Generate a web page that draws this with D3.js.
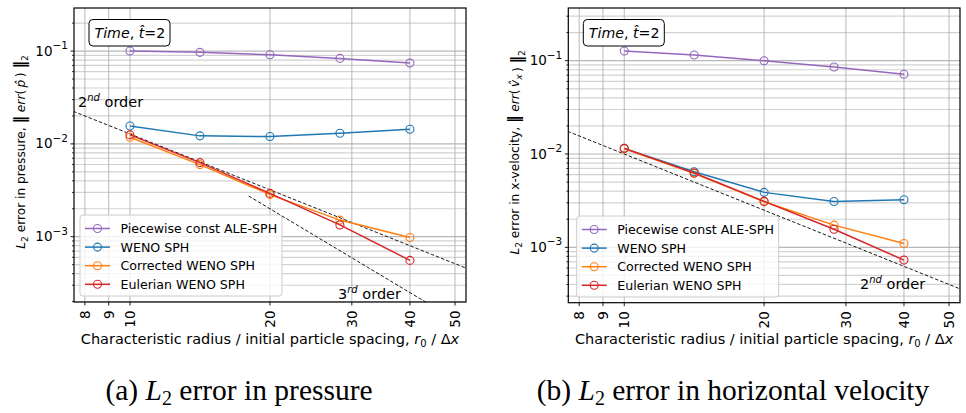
<!DOCTYPE html>
<html>
<head>
<meta charset="utf-8">
<script src="https://cdn.jsdelivr.net/npm/d3@7"></script>
<style>
  body { margin: 0; background: #fff; }
  svg { display: block; font-family: "DejaVu Sans", sans-serif; }
</style>
</head>
<body>
<svg id="chart" width="966" height="413"></svg>
<script>
// resolution r0/dx used by every series
const resolution = [10, 14.14, 20, 28.28, 40];

// panel (a): pressure error
const pressurePiecewise = [0.100, 0.0968, 0.0912, 0.0834, 0.0742];
const pressureWeno = [0.0156, 0.0122, 0.0120, 0.0130, 0.0144];
const pressureCorrected = [0.0118, 0.00598, 0.00284, 0.00151, 0.00098];
const pressureEulerian = [0.0125, 0.00628, 0.00293, 0.00134, 0.000556];

// panel (b): x-velocity error
const velocityPiecewise = [0.127, 0.115, 0.100, 0.0856, 0.0715];
const velocityWeno = [0.0115, 0.00646, 0.00388, 0.00310, 0.00324];
const velocityCorrected = [0.0114, 0.0062, 0.00308, 0.00173, 0.00110];
const velocityEulerian = [0.0115, 0.00625, 0.00311, 0.00156, 0.00073];

const seriesNames = ["Piecewise const ALE-SPH", "WENO SPH", "Corrected WENO SPH", "Eulerian WENO SPH"];
const seriesColors = ["#9467bd", "#1f77b4", "#ff7f0e", "#d62728"];

const xTicks = [8, 9, 10, 20, 30, 40, 50];
const xDomain = [7.579, 52.8];

const svg = d3.select("#chart");

function drawPanel({left, top, width, height, yDomain, series, refs, yLabel, legendAt}) {
  const g = svg.append("g");
  const x = d3.scaleLog().domain(xDomain).range([left, left + width]);
  const y = d3.scaleLog().domain(yDomain).range([top + height, top]);
  const uid = "clip-" + Math.round(left);

  g.append("clipPath").attr("id", uid)
    .append("rect").attr("x", left).attr("y", top).attr("width", width).attr("height", height);

  // horizontal grid (major + minor)
  const yAll = [];
  for (let e = -4; e <= 0; e++) for (let k = 1; k <= 9; k++) {
    const v = k * Math.pow(10, e);
    if (v >= yDomain[0] && v <= yDomain[1]) yAll.push(v);
  }
  const isMajor = d => Math.abs(Math.log10(d) - Math.round(Math.log10(d))) < 1e-9;
  g.append("g").selectAll("line").data(yAll).join("line")
    .attr("x1", left).attr("x2", left + width)
    .attr("y1", d => y(d)).attr("y2", d => y(d))
    .attr("stroke", d => isMajor(d) ? "#b8b8b8" : "#d2d2d2")
    .attr("stroke-width", 1.2);

  // vertical grid
  g.append("g").selectAll("line").data(xTicks).join("line")
    .attr("x1", d => x(d)).attr("x2", d => x(d))
    .attr("y1", top).attr("y2", top + height)
    .attr("stroke", "#b0b0b0").attr("stroke-width", 0.9);

  // reference slopes
  const plot = g.append("g").attr("clip-path", `url(#${uid})`);
  refs.forEach(r => {
    plot.append("line")
      .attr("x1", x(r.from)).attr("y1", y(r.c / Math.pow(r.from, r.order)))
      .attr("x2", x(r.to)).attr("y2", y(r.c / Math.pow(r.to, r.order)))
      .attr("stroke", "#000").attr("stroke-width", 0.9).attr("stroke-dasharray", "3.5,2");
  });

  const line = d3.line().x((d, i) => x(resolution[i])).y(d => y(d));
  series.forEach((s, i) => {
    plot.append("path").attr("d", line(s))
      .attr("fill", "none").attr("stroke", seriesColors[i]).attr("stroke-width", 1.5);
    plot.append("g").selectAll("circle").data(s).join("circle")
      .attr("cx", (d, j) => x(resolution[j])).attr("cy", d => y(d)).attr("r", 4)
      .attr("fill", "none").attr("stroke", seriesColors[i]).attr("stroke-width", 1.1);
  });

  // reference labels
  refs.forEach(r => {
    const t = g.append("text").attr("x", r.lx).attr("y", r.ly).attr("font-size", 14.5).attr("fill", "#000");
    t.append("tspan").text(r.order);
    t.append("tspan").attr("dy", -6).attr("font-size", 10).attr("font-style", "italic").text(r.order === 2 ? "nd" : "rd");
    t.append("tspan").attr("dy", 6).text(" order");
  });

  // frame
  g.append("rect").attr("x", left).attr("y", top).attr("width", width).attr("height", height)
    .attr("fill", "none").attr("stroke", "#000").attr("stroke-width", 1.2);

  // y ticks
  const yMinor = yAll.filter(d => !isMajor(d));
  const yMajor = yAll.filter(isMajor);
  g.append("g").selectAll("line").data(yMinor).join("line")
    .attr("x1", left - 2).attr("x2", left).attr("y1", d => y(d)).attr("y2", d => y(d))
    .attr("stroke", "#000").attr("stroke-width", 0.8);
  g.append("g").selectAll("line").data(yMajor).join("line")
    .attr("x1", left - 3.5).attr("x2", left).attr("y1", d => y(d)).attr("y2", d => y(d))
    .attr("stroke", "#000").attr("stroke-width", 0.9);
  yMajor.forEach(d => {
    const t = g.append("text").attr("x", left - 6).attr("y", y(d) + 4.5)
      .attr("text-anchor", "end").attr("font-size", 13.5);
    t.append("tspan").text("10");
    t.append("tspan").attr("dy", -6.5).attr("font-size", 10.5).text("\u2212" + Math.round(-Math.log10(d)));
  });

  // x ticks
  g.append("g").selectAll("line").data(xTicks).join("line")
    .attr("x1", d => x(d)).attr("x2", d => x(d)).attr("y1", top + height).attr("y2", top + height + 3.5)
    .attr("stroke", "#000").attr("stroke-width", 0.9);
  g.append("g").selectAll("text").data(xTicks).join("text")
    .attr("transform", d => `translate(${x(d) + 5},${top + height + 8.5}) rotate(-90)`)
    .attr("text-anchor", "end").attr("font-size", 13.5).text(d => d);

  // x label
  const xl = g.append("text").attr("x", left + width / 2).attr("y", 344)
    .attr("text-anchor", "middle").attr("font-size", 14.5);
  xl.append("tspan").text("Characteristic radius / initial particle spacing, ");
  xl.append("tspan").attr("font-style", "italic").text("r");
  xl.append("tspan").attr("dy", 3).attr("font-size", 10).text("0");
  xl.append("tspan").attr("dy", -3).text(" / \u0394");
  xl.append("tspan").attr("font-style", "italic").text("x");

  // y label
  const yl = g.append("text")
    .attr("transform", `translate(${left - 49},${top + height / 2 - 3}) rotate(-90)`)
    .attr("text-anchor", "middle").attr("font-size", 12.2);
  yLabel(yl);

  // time box
  g.append("rect").attr("x", left + 15).attr("y", 19.5).attr("width", 81).attr("height", 26.5)
    .attr("rx", 4).attr("fill", "#fff").attr("stroke", "#000").attr("stroke-width", 1);
  const tb = g.append("text").attr("x", left + 20.5).attr("y", 37.5).attr("font-size", 14.2);
  tb.append("tspan").attr("font-style", "italic").text("Time");
  tb.append("tspan").text(", ");
  tb.append("tspan").attr("font-style", "italic").text("t\u0302");
  tb.append("tspan").text("=2");

  // legend
  const lg = g.append("g").attr("transform", `translate(${legendAt[0]},${legendAt[1]})`);
  lg.append("rect").attr("width", 202).attr("height", 81).attr("rx", 3)
    .attr("fill", "#fff").attr("fill-opacity", 0.8).attr("stroke", "#cccccc").attr("stroke-width", 1);
  seriesNames.forEach((name, i) => {
    const ry = 13.5 + i * 18.6;
    lg.append("line").attr("x1", 5).attr("x2", 30).attr("y1", ry).attr("y2", ry)
      .attr("stroke", seriesColors[i]).attr("stroke-width", 1.5);
    lg.append("circle").attr("cx", 17.5).attr("cy", ry).attr("r", 4)
      .attr("fill", "none").attr("stroke", seriesColors[i]).attr("stroke-width", 1.1);
    lg.append("text").attr("x", 40.5).attr("y", ry + 4.5).attr("font-size", 12.6).text(name);
  });
}

function normLabel(t, prefix, varTspans) {
  t.append("tspan").attr("font-style", "italic").text("L");
  t.append("tspan").attr("dy", 3).attr("font-size", 9).text("2");
  t.append("tspan").attr("dy", -3).text(prefix);
  t.append("tspan").attr("font-weight", "bold").attr("font-size", 15).text("\u2016");
  t.append("tspan").text(" ");
  t.append("tspan").attr("font-style", "italic").text("err");
  t.append("tspan").text("(\u2009");
  varTspans(t);
  t.append("tspan").text("\u2009) ");
  t.append("tspan").attr("font-weight", "bold").attr("font-size", 15).text("\u2016");
  t.append("tspan").attr("dy", 3).attr("font-size", 9).text("2");
}

drawPanel({
  left: 74, top: 8, width: 392, height: 294,
  yDomain: [1.98e-4, 0.291],
  series: [pressurePiecewise, pressureWeno, pressureCorrected, pressureEulerian],
  refs: [
    {order: 2, c: 1.28, from: 7, to: 60, lx: 78, ly: 107},
    {order: 3, c: 16, from: 18, to: 60, lx: 338, ly: 299}
  ],
  yLabel: t => normLabel(t, " error in pressure, ", tt => tt.append("tspan").attr("font-style", "italic").text("p\u0302")),
  legendAt: [80, 215]
});

drawPanel({
  left: 568.3, top: 8, width: 391.7, height: 294.7,
  yDomain: [2.55e-4, 0.367],
  series: [velocityPiecewise, velocityWeno, velocityCorrected, velocityEulerian],
  refs: [
    {order: 2, c: 1.0, from: 7, to: 60, lx: 860, ly: 289}
  ],
  yLabel: t => normLabel(t, " error in x-velocity, ", tt => {
    tt.append("tspan").attr("font-style", "italic").text("v\u0302");
    tt.append("tspan").attr("dy", 3).attr("font-size", 9).attr("font-style", "italic").text("x");
    tt.append("tspan").attr("dy", -3).text("");
  }),
  legendAt: [576.7, 216]
});

// captions
function caption(cx, letter, rest) {
  const t = svg.append("text").attr("x", cx).attr("y", 400).attr("text-anchor", "middle")
    .attr("font-family", "'Liberation Serif', serif").attr("font-size", 29.5);
  t.append("tspan").text(`(${letter}) `);
  t.append("tspan").attr("font-style", "italic").text("L");
  t.append("tspan").attr("dy", 5).attr("font-size", 20).text("2");
  t.append("tspan").attr("dy", -5).text(" " + rest);
}
caption(239, "a", "error in pressure");
caption(733, "b", "error in horizontal velocity");
</script>
</body>
</html>
